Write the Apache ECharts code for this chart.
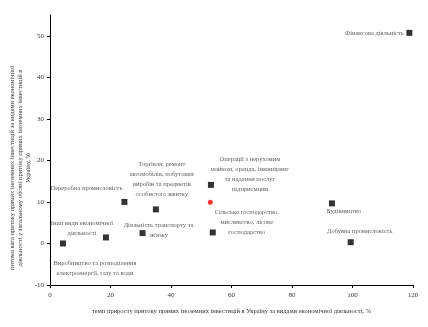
<!DOCTYPE html>
<html><head><meta charset="utf-8">
<script src="https://cdn.jsdelivr.net/npm/echarts@6/dist/echarts.min.js"></script>
<style>html,body{margin:0;padding:0;background:#fff}#c{width:428px;height:327px}</style>
</head><body><div id="c"></div>
<script>
const names = [
  'Фінансова діяльність',
  'Переробна промисловість',
  'Інші види економічної\nдіяльності',
  'Виробництво та розподілення\nелектроенергії, газу та води',
  'Торгівля; ремонт\nавтомобілів, побутових\nвиробів та предметів\nособистого вжитку',
  'Діяльність транспорту та\nзв\'язку',
  'Операції з нерухомим\nмайном, оренда, інжиніринг\nта надання послуг\nпідприємцям',
  'Сільське господарство,\nмисливство, лісове\nгосподарство',
  'Будівництво',
  'Добувна промисловість'
];
const xValues = [118.8, 24.6, 18.5, 4.3, 35.0, 30.6, 53.2, 53.8, 93.2, 99.4];
const yValues = [50.7, 10.0, 1.45, 0.0, 8.2, 2.5, 14.1, 2.65, 9.65, 0.3];
const avgPoint = [53.0, 9.9];
const quadNames = ['I', 'III', 'II', 'IV'];
const quadX = [49.3, 56.9, 49.3, 56.9];
const quadY = [52, 52, -7.7, -7.7];
const xTicks = [0, 20, 40, 60, 80, 100, 120];
const yTicks = [-10, 0, 10, 20, 30, 40, 50];

const labelOffsets = [[-35, 0], [-38, -14], [-24, -9], [32, 25], [6, -30], [16, -3], [39, -11], [34, -10], [12, 8], [9, -11]];
const font = '"Liberation Serif", "Times New Roman", serif';
const txt = '#333';

const chart = echarts.init(document.getElementById('c'));
chart.setOption({
  animation: false,
  grid: {left: 50, right: 15, top: 15, bottom: 42, containLabel: false, outerBoundsMode: 'none'},
  xAxis: {
    type: 'value', min: 0, max: 120, interval: 20,
    name: 'темп приросту притоку прямих іноземних інвестицій в Україну за видами економічної діяльності, %',
    nameLocation: 'middle', nameGap: 23, nameMoveOverlap: false,
    nameTextStyle: {fontFamily: font, fontSize: 6.5, color: txt},
    axisLine: {onZero: false, lineStyle: {color: '#000', width: 1}},
    axisTick: {show: true, length: 3, lineStyle: {color: '#000'}, customValues: xTicks},
    axisLabel: {fontFamily: font, fontSize: 7, color: txt, margin: 7, customValues: xTicks},
    splitLine: {show: false}
  },
  yAxis: {
    type: 'value', min: -10, max: 55, interval: 10,
    name: 'питома вага притоку прямих іноземних інвестицій за видами економічної\nдіяльності у загальному обсязі притоку прямих іноземних інвестицій в\nУкраїну, %',
    nameLocation: 'middle', nameGap: 18, nameMoveOverlap: false,
    nameTextStyle: {fontFamily: font, fontSize: 6.5, color: txt, lineHeight: 8, padding: [0, 36, 0, 0]},
    axisLine: {onZero: false, lineStyle: {color: '#000', width: 1}},
    axisTick: {show: true, length: 3, lineStyle: {color: '#000'}, customValues: yTicks},
    axisLabel: {fontFamily: font, fontSize: 7, color: txt, margin: 6, customValues: yTicks},
    splitLine: {show: false}
  },
  series: [
    {
      type: 'scatter', symbol: 'rect', symbolSize: 6,
      itemStyle: {color: '#000'},
      data: xValues.map((x, i) => ({
        value: [x, yValues[i]],
        label: {
          show: true, formatter: names[i], position: 'inside',
          offset: labelOffsets[i], align: 'center', verticalAlign: 'middle',
          fontFamily: font, fontSize: 6.5, lineHeight: 10, color: txt
        }
      }))
    },
    {
      type: 'scatter', symbol: 'circle', symbolSize: 5,
      itemStyle: {color: '#ff0000'},
      data: [avgPoint]
    },
    {
      type: 'scatter', symbol: 'none', symbolSize: 0,
      data: quadX.map((x, i) => ({
        value: [x, quadY[i]],
        label: {show: true, formatter: quadNames[i], position: 'inside', fontFamily: font, fontSize: 5, color: txt}
      }))
    }
  ]
});
</script></body></html>
